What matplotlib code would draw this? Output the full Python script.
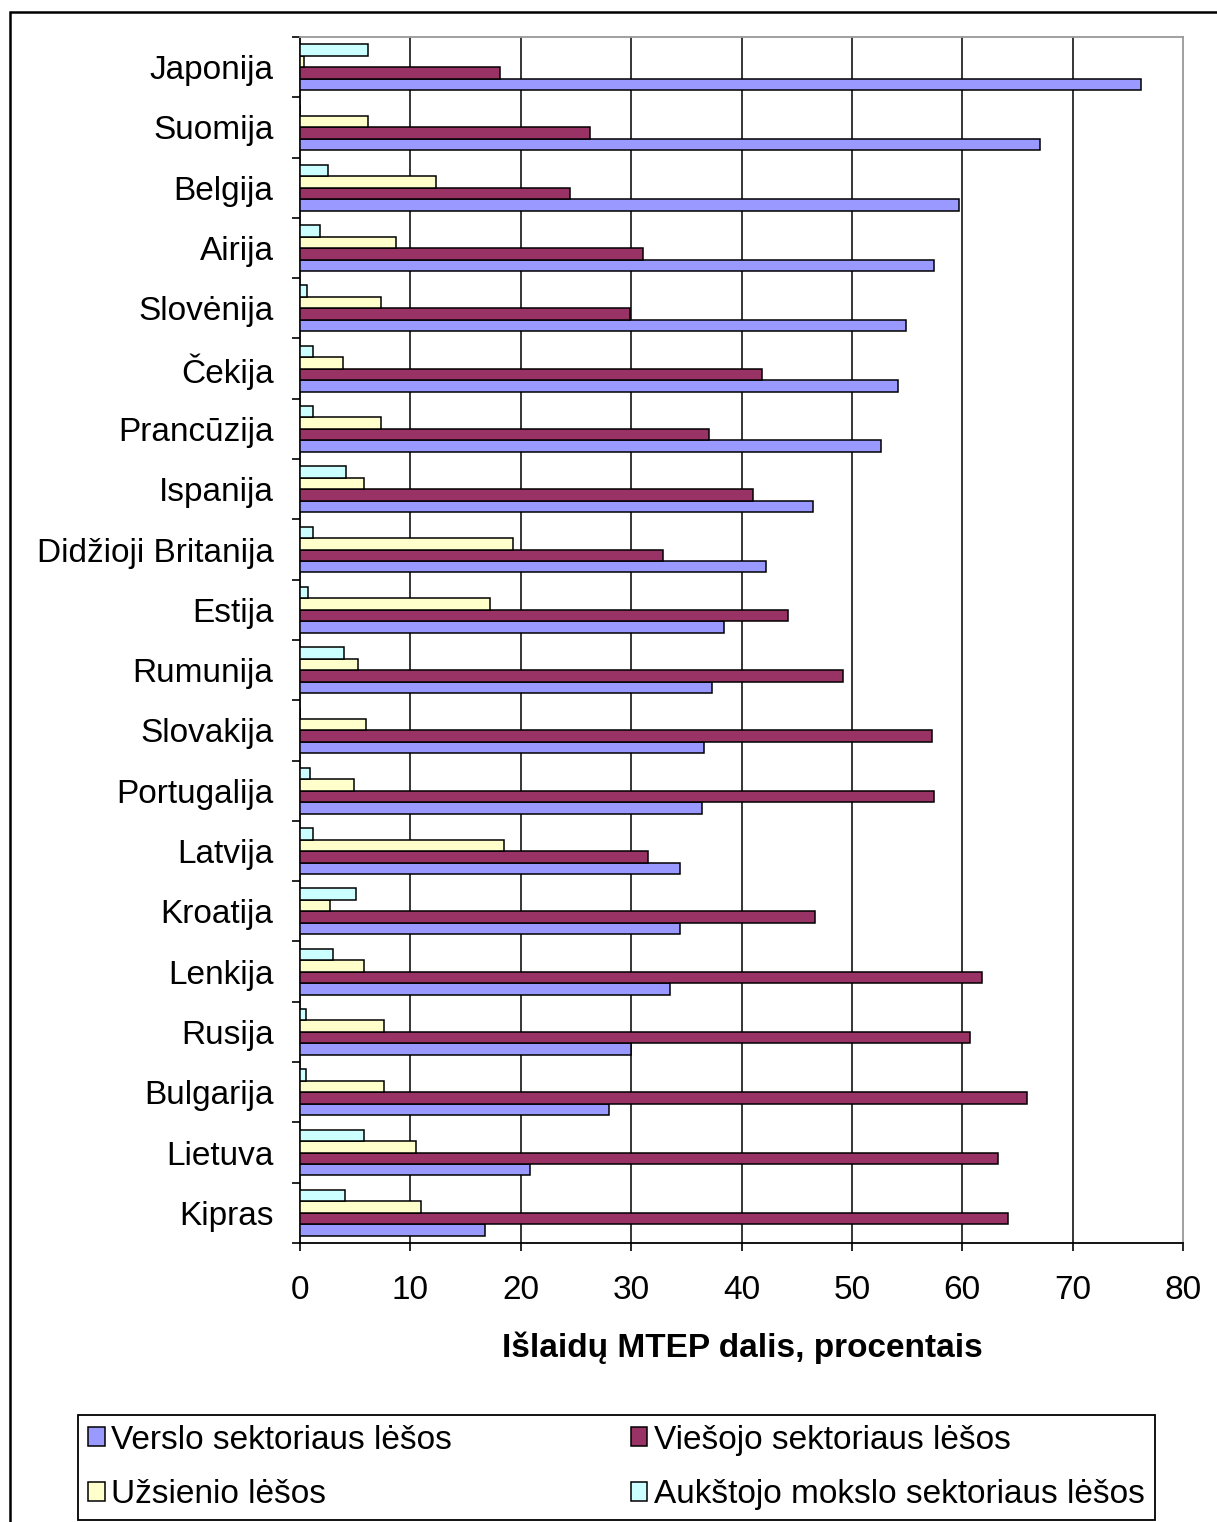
import numpy as np
import matplotlib
matplotlib.use('Agg')
import matplotlib.pyplot as plt
from matplotlib.patches import Rectangle

plt.rcParams['font.family'] = ['Liberation Sans', 'DejaVu Sans']

# duomenys (nuskaityti nuo paveikslo), procentais
salys = ['Japonija', 'Suomija', 'Belgija', 'Airija', 'Slovėnija', 'Čekija',
         'Prancūzija', 'Ispanija', 'Didžioji Britanija', 'Estija', 'Rumunija',
         'Slovakija', 'Portugalija', 'Latvija', 'Kroatija', 'Lenkija', 'Rusija',
         'Bulgarija', 'Lietuva', 'Kipras']
verslo = [76.2, 67.0, 59.7, 57.4, 54.9, 54.2, 52.6, 46.5, 42.2, 38.4,
          37.3, 36.6, 36.4, 34.4, 34.4, 33.5, 30.0, 28.0, 20.8, 16.8]
viesojo = [18.1, 26.3, 24.5, 31.1, 29.9, 41.9, 37.1, 41.0, 32.9, 44.2,
           49.2, 57.3, 57.4, 31.5, 46.7, 61.8, 60.7, 65.9, 63.2, 64.1]
uzsienio = [0.4, 6.2, 12.3, 8.7, 7.3, 3.9, 7.3, 5.8, 19.3, 17.2,
            5.3, 6.0, 4.9, 18.5, 2.7, 5.8, 7.6, 7.6, 10.5, 11.0]
aukstojo = [6.2, 0.0, 2.5, 1.8, 0.6, 1.2, 1.2, 4.2, 1.2, 0.7,
            4.0, 0.0, 0.9, 1.2, 5.1, 3.0, 0.5, 0.5, 5.8, 4.1]

serijos = [
    ('Verslo sektoriaus lėšos', verslo, '#9999FF'),
    ('Viešojo sektoriaus lėšos', viesojo, '#993366'),
    ('Užsienio lėšos', uzsienio, '#FFFFCC'),
    ('Aukštojo mokslo sektoriaus lėšos', aukstojo, '#CCFFFF'),
]

W, H = 1217, 1522
fig = plt.figure(figsize=(W / 100, H / 100), dpi=100)
fig.patch.set_facecolor('white')

# išorinis rėmelis (dešinė ir apačia nukirpti)
fig.patches.append(Rectangle((10 / W, -0.02), 1.1, 1 - 12 / H + 0.02,
                             transform=fig.transFigure, fill=False,
                             edgecolor='black', linewidth=1.8))

ax = fig.add_axes([300 / W, 1 - 1243 / H, (1183 - 300) / W, (1243 - 37) / H])

y = np.arange(len(salys))
h = 0.19
poslinkiai = [0.285, 0.095, -0.095, -0.285]
rankos = []
for (pav, reiksmes, spalva), d in zip(serijos, poslinkiai):
    b = ax.barh(y + d, reiksmes, height=h, color=spalva, edgecolor='black',
                linewidth=1.1, label=pav, zorder=3)
    rankos.append(b)

for gx in range(10, 80, 10):
    ax.axvline(gx, color='black', linewidth=1.1, zorder=1)

ax.set_xlim(0, 80)
ax.set_ylim(len(salys) - 0.5, -0.5)
ax.set_xticks(np.arange(0, 81, 10))
ax.tick_params(axis='x', direction='out', length=6, width=1.2,
               labelsize=24, pad=17)

ax.set_yticks(y)
ax.set_yticklabels(salys)
ax.set_yticks(np.arange(-0.5, len(salys), 1), minor=True)
ax.tick_params(axis='y', which='major', length=0, labelsize=24, pad=19)
ax.tick_params(axis='y', which='minor', direction='out', length=6, width=1.2)

for s in ['left', 'bottom']:
    ax.spines[s].set_color('black')
    ax.spines[s].set_linewidth(1.3)
for s in ['top', 'right']:
    ax.spines[s].set_color('#999999')
    ax.spines[s].set_linewidth(1.3)

fig.text(742 / W, 1 - 1348 / H, 'Išlaidų MTEP dalis, procentais',
         ha='center', va='center', fontsize=24, fontweight='bold')

# eilutėmis: Verslo, Viešojo / Užsienio, Aukštojo
tvarka = [0, 2, 1, 3]
leg = fig.legend(handles=[rankos[i] for i in tvarka],
                 labels=[serijos[i][0] for i in tvarka],
                 loc='lower left', ncol=2, mode='expand',
                 bbox_to_anchor=(78 / W, 2 / H, (1155 - 78) / W, 111 / H),
                 fontsize=24, frameon=True, fancybox=False,
                 edgecolor='black', framealpha=1, borderpad=0.3,
                 handlelength=0.5, handleheight=0.5, handletextpad=0.2,
                 labelspacing=0.7, columnspacing=1.0, borderaxespad=0)
leg.get_frame().set_linewidth(1.3)

fig.savefig('out.png', dpi=100, facecolor='white')
